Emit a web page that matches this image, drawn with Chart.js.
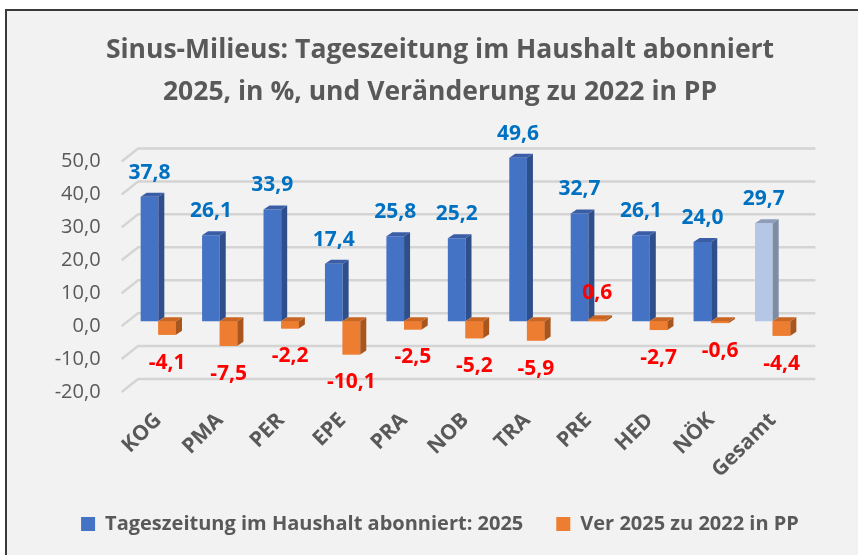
<!DOCTYPE html>
<html>
<head>
<meta charset="utf-8">
<script src="https://cdn.jsdelivr.net/npm/chart.js"></script>
<style>
  html, body { margin: 0; padding: 0; background: #fff; }
  body { width: 858px; height: 555px; overflow: hidden; position: relative; }
  #frame { position: absolute; left: 5px; top: 9px; width: 900px; height: 600px; background: #f2f2f2; border: 2px solid #3a3a3a; }
  #wrap { position: absolute; left: 0; top: 0; width: 858px; height: 555px; }
</style>
</head>
<body>
<div id="frame"></div>
<div id="wrap"><canvas id="milieuChart" width="858" height="555"></canvas></div>
<script>
// Werte aus der Grafik
const categories = ['KOG', 'PMA', 'PER', 'EPE', 'PRA', 'NOB', 'TRA', 'PRE', 'HED', 'NÖK', 'Gesamt'];
const abo2025 = [37.8, 26.1, 33.9, 17.4, 25.8, 25.2, 49.6, 32.7, 26.1, 24.0, 29.7];
const change2022 = [-4.1, -7.5, -2.2, -10.1, -2.5, -5.2, -5.9, 0.6, -2.7, -0.6, -4.4];
const yTicks = [-20, -10, 0, 10, 20, 30, 40, 50];

const FONT = "'Open Sans', sans-serif";
const GREY = '#595959';
const fmt = v => v.toFixed(1).replace('.', ',');

// colours per bar (front / side / top), Gesamt is light blue
const blueFront = categories.map(c => c === 'Gesamt' ? '#B4C7E7' : '#4472C4');
const blueSide = categories.map(c => c === 'Gesamt' ? '#7D8BA3' : '#2F4F8C');
const blueTop = categories.map(c => c === 'Gesamt' ? '#8D9DBA' : '#3A5EA6');
const orangeFront = '#ED7D31';
const orangeSide = '#A8561E';
const orangeTop = '#C96624';

const DX = 6, DY = -4;

const bars3d = {
    id: 'bars3d',
    beforeDatasetsDraw(chart) {
        const { ctx, chartArea } = chart;
        const y = chart.scales.y;
        ctx.save();
        ctx.strokeStyle = '#d4d4d4';
        ctx.lineWidth = 2.5;
        yTicks.forEach(v => {
            const py = y.getPixelForValue(v);
            ctx.beginPath();
            ctx.moveTo(chartArea.left - 6, py + 5);
            ctx.lineTo(chartArea.left + 10.5, py - 8);
            ctx.lineTo(chartArea.right + 12, py - 8);
            ctx.stroke();
        });
        ctx.restore();
    },
    afterDatasetsDraw(chart) {
        const { ctx } = chart;
        ctx.save();
        chart.data.datasets.forEach((ds, i) => {
            const meta = chart.getDatasetMeta(i);
            meta.data.forEach((bar, j) => {
                const p = bar.getProps(['x', 'y', 'base', 'width'], true);
                const l = p.x - p.width / 2, r = p.x + p.width / 2;
                const t = Math.min(p.y, p.base), b = Math.max(p.y, p.base);
                if (i === 1) {
                    ctx.fillStyle = orangeFront;
                    ctx.fillRect(l, t, r - l, b - t);
                }
                // side face
                ctx.fillStyle = i === 0 ? blueSide[j] : orangeSide;
                ctx.beginPath();
                ctx.moveTo(r, t);
                ctx.lineTo(r + DX, t + DY);
                ctx.lineTo(r + DX, b + DY);
                ctx.lineTo(r, b);
                ctx.closePath();
                ctx.fill();
                // top face
                ctx.fillStyle = i === 0 ? blueTop[j] : orangeTop;
                ctx.beginPath();
                ctx.moveTo(l, t);
                ctx.lineTo(l + DX, t + DY);
                ctx.lineTo(r + DX, t + DY);
                ctx.lineTo(r, t);
                ctx.closePath();
                ctx.fill();
            });
        });
        // data labels
        ctx.textAlign = 'center';
        ctx.textBaseline = 'middle';
        ctx.font = 'bold 21px ' + FONT;
        chart.data.datasets.forEach((ds, i) => {
            const meta = chart.getDatasetMeta(i);
            meta.data.forEach((bar, j) => {
                const v = ds.data[j];
                const p = bar.getProps(['x', 'y'], true);
                if (i === 0) {
                    ctx.fillStyle = '#0070C0';
                    ctx.fillText(fmt(v), p.x, p.y - 24);
                } else {
                    ctx.fillStyle = '#FF0000';
                    ctx.fillText(fmt(v), p.x, v < 0 ? p.y + 28 : p.y - 26);
                }
            });
        });
        ctx.restore();
    }
};

const ctx = document.getElementById('milieuChart').getContext('2d');
const milieuChart = new Chart(ctx, {
    type: 'bar',
    data: {
        labels: categories,
        datasets: [{
            label: 'Tageszeitung im Haushalt abonniert: 2025',
            data: abo2025,
            backgroundColor: blueFront,
            categoryPercentage: 0.575,
            barPercentage: 1.0
        }, {
            label: 'Ver 2025 zu 2022 in PP',
            data: change2022,
            backgroundColor: orangeFront,
            categoryPercentage: 0.575,
            barPercentage: 1.0
        }]
    },
    options: {
        responsive: false,
        animation: false,
        layout: { padding: { left: 24, right: 2, top: 0, bottom: 11 } },
        plugins: {
            title: {
                display: true,
                text: ['Sinus-Milieus: Tageszeitung im Haushalt abonniert', '2025, in %, und Veränderung zu 2022 in PP'],
                color: GREY,
                font: { family: FONT, size: 26.5, weight: 'bold', lineHeight: 42 / 26.5 },
                padding: { top: 29, bottom: 43.5 }
            },
            legend: {
                position: 'bottom',
                labels: {
                    boxWidth: 14,
                    boxHeight: 14,
                    padding: 33,
                    color: GREY,
                    font: { family: FONT, size: 20, weight: 'bold' }
                }
            },
            tooltip: { enabled: false }
        },
        scales: {
            x: {
                grid: { display: false, drawTicks: false },
                border: { display: false },
                ticks: {
                    color: GREY,
                    font: { family: FONT, size: 21, weight: 'bold' },
                    minRotation: 45,
                    maxRotation: 45,
                    autoSkip: false,
                    padding: 21
                },
                afterFit: s => { s.height = 94; }
            },
            y: {
                min: -20,
                max: 50,
                grid: { display: false, drawTicks: false },
                border: { display: false },
                ticks: {
                    stepSize: 10,
                    color: GREY,
                    font: { family: FONT, size: 20 },
                    padding: 27,
                    labelOffset: 5,
                    callback: v => fmt(v)
                },
                afterFit: s => { s.width = 103.6; }
            },
            yRight: {
                type: 'linear',
                position: 'right',
                grid: { display: false, drawTicks: false },
                border: { display: false },
                ticks: { display: false },
                afterFit: s => { s.width = 52.6; }
            }
        }
    },
    plugins: [bars3d]
});
</script>
</body>
</html>
